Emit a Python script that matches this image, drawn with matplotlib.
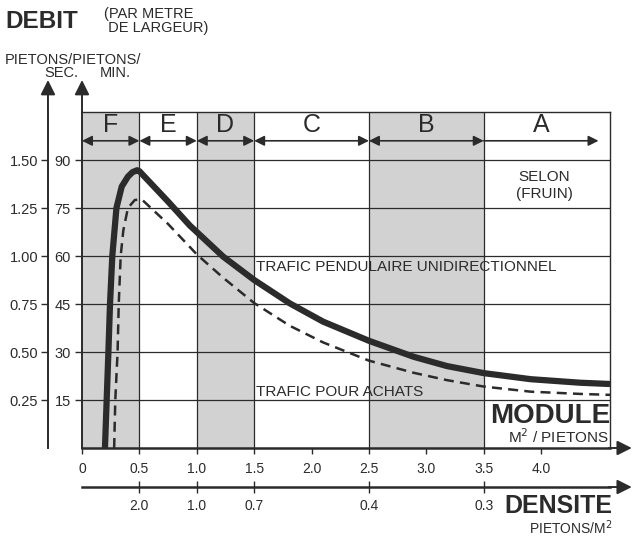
import matplotlib.pyplot as plt

plt.rcParams['font.family'] = ['Liberation Sans', 'DejaVu Sans']

INK = '#2b2b2b'
GRIS = '#d2d2d2'

# courbe debit / module (pietons/min par metre de largeur)
module_pendulaire = [0.20, 0.215, 0.23, 0.244, 0.264, 0.30, 0.346, 0.40, 0.44, 0.48, 0.50,
                     0.75, 0.94, 1.0, 1.23, 1.5, 1.81, 2.10, 2.5, 2.89, 3.18, 3.5,
                     3.91, 4.34, 4.6]
debit_pendulaire = [0, 15, 30, 45, 60, 75, 81.7, 84.8, 86.2, 86.8, 86.5,
                    77, 69.5, 67.5, 59.8, 52.5, 45.2, 39.5, 33.5, 28.5, 25.6, 23.4,
                    21.5, 20.4, 20]

module_achats = [0.28, 0.29, 0.31, 0.32, 0.337, 0.36, 0.40, 0.46, 0.52,
                 0.75, 0.94, 1.0, 1.23, 1.5, 1.81, 2.10, 2.5, 2.89, 3.18, 3.5,
                 3.91, 4.34, 4.6]
debit_achats = [0, 15, 30, 45, 60, 68, 75, 77.5, 77.7,
                70, 62.8, 60.5, 53.2, 45.3, 38.2, 33, 27.3, 23.5, 21.2, 19.2,
                17.6, 16.9, 16.6]

# niveaux de service
niveaux = ['F', 'E', 'D', 'C', 'B', 'A']
limites = [0, 0.5, 1.0, 1.5, 2.5, 3.5, 4.5]
niveaux_gris = ['F', 'D', 'B']

debit_min_ticks = [15, 30, 45, 60, 75, 90]
debit_sec_ticks = [0.25, 0.50, 0.75, 1.00, 1.25, 1.50]
module_ticks = [0, 0.5, 1.0, 1.5, 2.0, 2.5, 3.0, 3.5, 4.0]
densite_pos = [0.5, 1.0, 1.5, 2.5, 3.5]
densite_labels = ['2.0', '1.0', '0.7', '0.4', '0.3']

W, H = 632, 539


def fx(px):
    return px / W


def fy(py):
    return 1 - py / H


fig = plt.figure(figsize=(W / 100, H / 100), dpi=100)
ax = fig.add_axes([fx(82), fy(448), (610 - 82) / W, (448 - 112) / H])
ax.set_xlim(0, 4.6)
ax.set_ylim(0, 105)

# zones grisees
for i, nom in enumerate(niveaux):
    if nom in niveaux_gris:
        ax.axvspan(limites[i], limites[i + 1], color=GRIS, lw=0, zorder=0)
for xb in limites[1:-1]:
    ax.axvline(xb, color=INK, lw=0.9, zorder=1)

# grille horizontale
ax.set_yticks(debit_min_ticks)
ax.yaxis.grid(True, color=INK, lw=0.9)
ax.set_axisbelow(True)

for s in ax.spines.values():
    s.set_color(INK)
    s.set_linewidth(1.0)
ax.spines['bottom'].set_linewidth(1.8)
ax.spines['left'].set_linewidth(1.4)

ax.tick_params(axis='y', direction='out', length=5, width=1, color=INK, pad=3,
               labelsize=10.5, labelcolor=INK)
ax.set_xticks(module_ticks)
ax.set_xticklabels(['0' if v == 0 else f'{v:.1f}' for v in module_ticks])
ax.tick_params(axis='x', direction='out', length=4, width=1, color=INK,
               pad=6, labelsize=10, labelcolor=INK)

# courbes
ax.plot(module_pendulaire, debit_pendulaire, color=INK, lw=4.5,
        solid_capstyle='butt', solid_joinstyle='round', zorder=4)
ax.plot(module_achats, debit_achats, color=INK, lw=1.8, dashes=(4, 2.5), zorder=4)

# lettres et fleches des niveaux
for i, nom in enumerate(niveaux):
    a, b = limites[i], limites[i + 1]
    centre = (a + b) / 2 if nom != 'A' else 4.0
    ax.text(centre, 100.8, nom, ha='center', va='center', fontsize=18, color=INK)
    style = '<|-|>' if nom != 'A' else '-|>'
    ax.annotate('', xy=(b, 96), xytext=(a, 96),
                arrowprops=dict(arrowstyle=style, color=INK, lw=1.2,
                                mutation_scale=15, shrinkA=0, shrinkB=0))

ax.text(1.52, 56.5, 'TRAFIC PENDULAIRE UNIDIRECTIONNEL', fontsize=11,
        color=INK, va='center', ha='left')
ax.text(1.52, 17.5, 'TRAFIC POUR ACHATS', fontsize=11, color=INK,
        va='center', ha='left')
ax.text(4.03, 82, 'SELON\n(FRUIN)', fontsize=11, color=INK, ha='center',
        va='center', linespacing=1.25)
ax.text(4.6, 10, 'MODULE', fontsize=20, fontweight='bold', color=INK,
        ha='right', va='center')
ax.text(4.59, 3.4, r'M$^{\mathrm{2}}$ / PIETONS', fontsize=11, color=INK,
        ha='right', va='center')

# axe pietons/sec
sec = ax.secondary_yaxis((48 - 82) / 528, functions=(lambda v: v / 60, lambda v: v * 60))
sec.set_yticks(debit_sec_ticks)
sec.set_yticklabels([f'{v:.2f}' for v in debit_sec_ticks])
sec.tick_params(direction='out', length=5, width=1, color=INK, pad=2,
                labelsize=10.5, labelcolor=INK)
sec.spines['left'].set_color(INK)
sec.spines['left'].set_linewidth(1.4)

# axe densite
dens = ax.secondary_xaxis(-39 / 336)
dens.set_xticks(densite_pos)
dens.set_xticklabels(densite_labels)
dens.tick_params(direction='inout', length=8, width=1, color=INK, pad=5,
                 labelsize=10, labelcolor=INK)
dens.spines['bottom'].set_color(INK)
dens.spines['bottom'].set_linewidth(1.8)

# fleches des axes
arrow = dict(arrowstyle='-|>', color=INK, lw=1.4, mutation_scale=22,
             shrinkA=0, shrinkB=0)
x_sec = (48 - 82) / 114.7
ax.annotate('', xy=(x_sec, 115), xytext=(x_sec, 104.9), arrowprops=arrow,
            annotation_clip=False)
ax.annotate('', xy=(0, 115), xytext=(0, 104.9), arrowprops=arrow,
            annotation_clip=False)
ax.annotate('', xy=(4.79, 0), xytext=(4.59, 0), arrowprops=arrow,
            annotation_clip=False)
ax.annotate('', xy=(4.79, -12.2), xytext=(4.59, -12.2), arrowprops=arrow,
            annotation_clip=False)

# titres hors du cadre
fig.text(fx(5), fy(22), 'DEBIT', fontsize=17.5, fontweight='bold', color=INK,
         ha='left', va='center')
fig.text(fx(104), fy(21), '(PAR METRE\n DE LARGEUR)', fontsize=10.5, color=INK,
         ha='left', va='center', linespacing=1.0)
fig.text(fx(5), fy(60), 'PIETONS/PIETONS/', fontsize=10.5, color=INK,
         ha='left', va='center')
fig.text(fx(61), fy(73), 'SEC.', fontsize=10.5, color=INK, ha='center', va='center')
fig.text(fx(115), fy(73), 'MIN.', fontsize=10.5, color=INK, ha='center', va='center')
fig.text(fx(612), fy(506), 'DENSITE', fontsize=18, fontweight='bold', color=INK,
         ha='right', va='center')
fig.text(fx(613), fy(528), r'PIETONS/M$^{\mathrm{2}}$', fontsize=10, color=INK,
         ha='right', va='center')

fig.savefig('out.png', dpi=100)
